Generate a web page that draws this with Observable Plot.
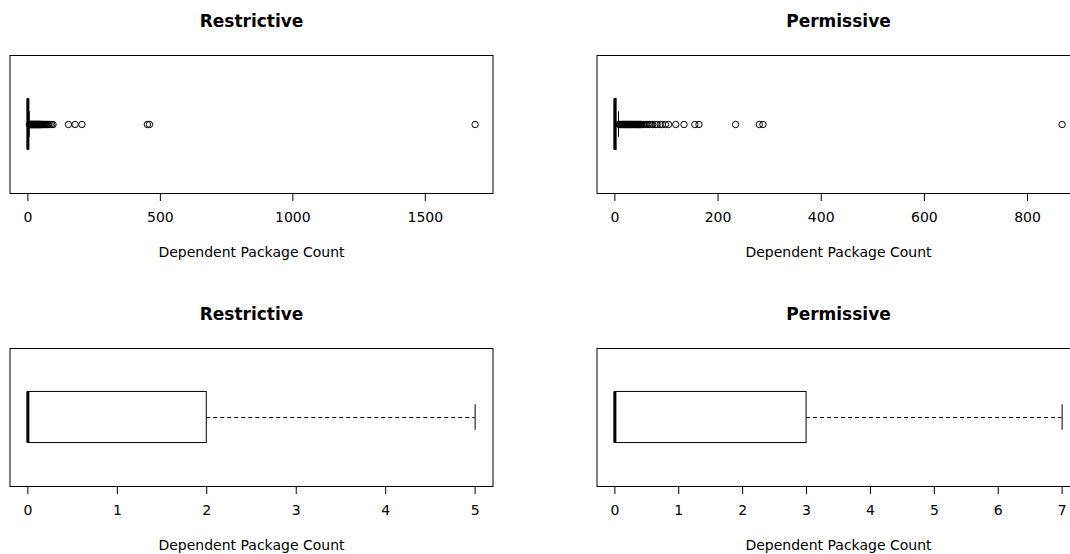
<!DOCTYPE html>
<html>
<head>
<meta charset="utf-8">
<script src="https://cdn.jsdelivr.net/npm/d3@7"></script>
<script src="https://cdn.jsdelivr.net/npm/@observablehq/plot@0.6"></script>
<style>
  html, body { margin: 0; padding: 0; background: #fff; overflow: hidden; }
  #chart { position: relative; width: 1070px; height: 554px; overflow: hidden; background: #fff; }
  #chart svg { position: absolute; }
</style>
</head>
<body>
<div id="chart"></div>
<script>
// License groups and their five-number summaries (dependent package counts)
const groups = ["Restrictive", "Permissive"];
const lowerWhisker = [0, 0];
const lowerHinge = [0, 0];
const medians = [0, 0];
const upperHinge = [2, 3];
const upperWhisker = [5, 7];

// Points beyond the upper whisker
const restrictiveOutliers = [
  6, 7, 8, 9, 10, 11, 12, 13, 14, 15, 16, 17, 18, 19, 20, 21, 22, 23, 24, 25,
  26, 27, 28, 29, 30, 31, 32, 33, 34, 35, 36, 37, 38, 39, 40, 41, 42, 43, 44, 45,
  46, 47, 48, 50, 52, 54, 56, 58, 60, 63, 66, 70, 74, 78, 84, 90, 95,
  153, 178, 204, 451, 459, 1688
];
const permissiveOutliers = [
  8, 9, 10, 11, 12, 13, 14, 15, 16, 17, 18, 19, 20, 21, 22, 23, 24, 25, 26, 27,
  28, 29, 30, 31, 32, 33, 34, 35, 36, 37, 38, 39, 40, 41, 42, 43, 44, 45, 46, 47,
  48, 49, 50, 52, 55, 58, 61, 64, 67, 70, 73, 78, 82, 88, 92, 98, 104,
  118, 134, 155, 163, 234, 280, 287, 867
];

// Tick values for the full view and the whisker-range view
const fullTicks = [[0, 500, 1000, 1500], [0, 200, 400, 600, 800]];
const zoomTicks = [[0, 1, 2, 3, 4, 5], [0, 1, 2, 3, 4, 5, 6, 7]];
const axisTitle = "Dependent Package Count";

const outlierSets = [restrictiveOutliers, permissiveOutliers];

function panel(i, withOutliers) {
  const outliers = withOutliers ? outlierSets[i] : [];
  const values = [lowerWhisker[i], upperWhisker[i], ...outliers];
  const lo = d3.min(values), hi = d3.max(values);
  const pad = (hi - lo) * 0.04;
  const box = [{
    lo: lowerWhisker[i], q1: lowerHinge[i], med: medians[i],
    q3: upperHinge[i], hi: upperWhisker[i]
  }];
  const center = () => 1;
  return Plot.plot({
    width: 535,
    height: 277,
    marginLeft: 9.5,
    marginRight: 42.5,
    marginTop: 55,
    marginBottom: 84,
    style: { fontFamily: "'DejaVu Sans', sans-serif", fontSize: "14px", color: "black", background: "white", overflow: "visible" },
    x: {
      domain: [lo - pad, hi + pad],
      ticks: withOutliers ? fullTicks[i] : zoomTicks[i],
      tickFormat: d => `${d}`,
      tickSize: 8,
      tickPadding: 11,
      label: null
    },
    y: { domain: [0.46, 1.54], axis: null },
    marks: [
      Plot.frame({ stroke: "black" }),
      Plot.rect(box, { x1: "q1", x2: "q3", y1: () => 0.8, y2: () => 1.2, fill: "white", stroke: "black" }),
      Plot.ruleY(box, { y: center, x1: "q3", x2: "hi", stroke: "black", strokeDasharray: "4,3" }),
      Plot.ruleY(box, { y: center, x1: "lo", x2: "q1", stroke: "black", strokeDasharray: "4,3" }),
      Plot.ruleX(box, { x: "hi", y1: () => 0.9, y2: () => 1.1, stroke: "black" }),
      Plot.ruleX(box, { x: "lo", y1: () => 0.9, y2: () => 1.1, stroke: "black" }),
      Plot.ruleX(box, { x: "med", y1: () => 0.8, y2: () => 1.2, stroke: "black", strokeWidth: 3, strokeLinecap: "butt" }),
      Plot.dot(outliers, { x: d => d, y: center, r: 3.2, stroke: "black", fill: "none", strokeWidth: 1 }),
      Plot.text([groups[i]], { frameAnchor: "top", dy: -28.5, lineAnchor: "bottom", fontWeight: "bold", fontSize: 17, fill: "black" }),
      Plot.text([axisTitle], { frameAnchor: "bottom", dy: 63, lineAnchor: "bottom", fontSize: 14, fill: "black" })
    ]
  });
}

const chart = document.getElementById("chart");
const layout = [
  { i: 0, full: true, left: 0, top: 0 },
  { i: 1, full: true, left: 587, top: 0 },
  { i: 0, full: false, left: 0, top: 293 },
  { i: 1, full: false, left: 587, top: 293 }
];
for (const p of layout) {
  const svg = panel(p.i, p.full);
  svg.style.left = p.left + "px";
  svg.style.top = p.top + "px";
  svg.style.maxWidth = "none";
  chart.appendChild(svg);
}
</script>
</body>
</html>
